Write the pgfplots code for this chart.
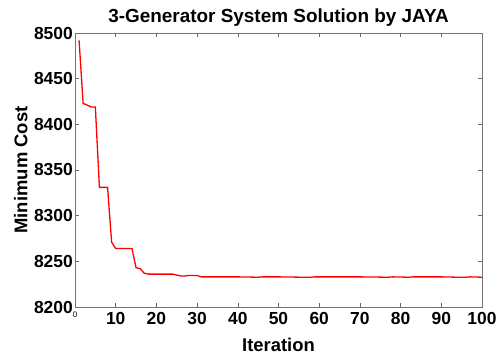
\documentclass[border=0pt]{standalone}
\usepackage{fontspec}
\setmainfont{Liberation Sans}
\usepackage{pgfplots}
\pgfplotsset{compat=1.18}
\begin{document}
\begin{tikzpicture}
\begin{axis}[
  scale only axis,
  width=407bp, height=274bp,
  xmin=0, xmax=100, ymin=8200, ymax=8500,
  xtick={0,10,...,100},
  xticklabels={{\fontsize{8}{8}\selectfont\mdseries 0},10,20,30,40,50,60,70,80,90,100},
  ytick={8200,8250,...,8500},
  yticklabels={8200,8250,8300,8350,8400,8450,8500},
  ticklabel style={font=\fontsize{17.5}{20}\selectfont\bfseries},
  yticklabel style={inner sep=1bp, xshift=-1bp},
  xticklabel style={inner sep=2bp, yshift=-3bp},
  major tick length=4bp,
  tick style={black!60, line width=0.6bp},
  axis line style={black!55, line width=0.8bp},
  title={3-Generator System Solution by JAYA},
  title style={font=\fontsize{19}{22}\selectfont\bfseries, yshift=-3bp},
  xlabel={Iteration},
  ylabel={Minimum Cost},
  label style={font=\fontsize{18.5}{22}\selectfont\bfseries},
  xlabel style={yshift=-8bp},
  ylabel style={yshift=2bp},
  clip=false,
]
\addplot[red, line width=1.3bp] coordinates {
(1,8492) (2,8423) (3,8421) (4,8419) (5,8419) (6,8331) (7,8331) (8,8331)
(9,8271) (10,8264) (11,8264) (12,8264) (13,8264) (14,8264) (15,8243) (16,8242)
(17,8237) (18,8236) (19,8236) (20,8236) (21,8236) (22,8236) (23,8236) (24,8236)
(25,8235) (26,8234) (27,8234) (28,8234.5) (29,8234.5) (30,8234.5) (31,8233)
(35,8233) (40,8233) (45,8232.6) (46,8233) (50,8233) (56,8232.6) (58,8232.6) (59,8233)
(70,8233) (77,8232.6) (78,8233) (82,8232.6) (83,8233) (90,8233) (94,8232.6) (96,8232.6) (97,8233) (100,8232.6)
};
\coordinate (bl) at (rel axis cs:0,0);
\end{axis}
\path (bl) ++(-75bp,-55bp) rectangle ++(499bp,362bp);
\end{tikzpicture}
\end{document}
